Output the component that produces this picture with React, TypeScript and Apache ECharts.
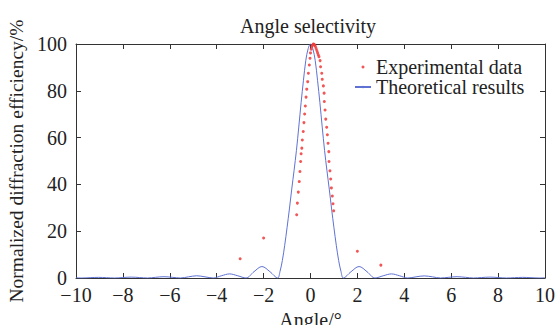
import React, { useEffect, useRef } from "react";
import * as echarts from "echarts";

const FONT = "Liberation Serif";

// Theoretical curve: [angle, efficiency]
const theoryAngles = [
  -10, -9.75, -9.4, -9.05, -8.7, -8.35, -8.0, -7.65, -7.3, -6.95, -6.6, -6.25, -5.9, -5.55,
  -5.2, -4.85, -4.5, -4.15, -3.8, -3.45, -3.1, -2.75, -2.41, -2.07, -1.73, -1.4,
  -1.3, -1.2, -1.1, -1.0, -0.9, -0.8, -0.7, -0.6, -0.5, -0.4, -0.3, -0.2, -0.1, 0,
  0.1, 0.2, 0.3, 0.4, 0.5, 0.6, 0.7, 0.8, 0.9, 1.0, 1.1, 1.2, 1.3, 1.4,
  1.73, 2.07, 2.41, 2.75, 3.1, 3.45, 3.8, 4.15, 4.5, 4.85, 5.2, 5.55, 5.9, 6.25, 6.6,
  6.95, 7.3, 7.65, 8.0, 8.35, 8.7, 9.05, 9.4, 9.75, 10,
];
const theoryValues = [
  0.08, 0, 0.14, 0.27, 0.14, 0, 0.2, 0.38, 0.2, 0, 0.3, 0.55, 0.3, 0,
  0.5, 0.95, 0.5, 0, 0.95, 1.75, 0.95, 0, 2.7, 4.9, 2.7, 0,
  2.8, 7.5, 14, 21.5, 29.5, 38, 46, 54.5, 64.5, 75, 84.5, 93, 98, 100,
  98, 93, 84.5, 75, 64.5, 54.5, 46, 38, 29.5, 21.5, 14, 7.5, 2.8, 0,
  2.7, 4.9, 2.7, 0, 0.95, 1.75, 0.95, 0, 0.5, 0.9, 0.5, 0, 0.3, 0.55, 0.3,
  0, 0.2, 0.38, 0.2, 0, 0.14, 0.27, 0.14, 0, 0.08,
];

const expAngles = [
  -3.0, -2.0,
  -0.59, -0.56, -0.52, -0.48, -0.45, -0.42, -0.4, -0.37, -0.35, -0.31, -0.28, -0.25, -0.22,
  -0.19, -0.16, -0.12, -0.09, -0.05, -0.02,
  0.0, 0.03, 0.06, 0.09, 0.12, 0.15, 0.18, 0.21, 0.24, 0.27, 0.3, 0.33,
  0.36, 0.41, 0.43, 0.48, 0.5, 0.55, 0.58, 0.59, 0.62, 0.65, 0.69, 0.72, 0.75, 0.78,
  0.79, 0.83, 0.86, 0.89, 0.93, 0.96, 0.99,
  2.0, 3.0,
];
const expValues = [
  8.2, 17.1,
  27.0, 32.0, 36.7, 41.2, 45.5, 49.8, 53.1, 55.5, 59.0, 62.6, 66.4, 70.1, 73.5,
  77.3, 80.7, 83.9, 87.5, 91.0, 93.9,
  96.2, 97.8, 98.9, 99.6, 100, 99.9, 99.5, 98.9, 98.1, 97.2, 96.3, 95.4,
  94.6, 92.9, 90.3, 87.5, 84.9, 82.1, 79.0, 75.4, 71.8, 67.9, 64.4, 61.2, 57.6, 54.0,
  49.8, 45.8, 42.3, 38.5, 35.0, 31.7, 28.7,
  11.4, 5.5,
];

const xTicks = [-10, -8, -6, -4, -2, 0, 2, 4, 6, 8, 10];
const yTicks = [0, 20, 40, 60, 80, 100];

const AXIS_COLOR = "#333";
const TEXT_COLOR = "#222";

export default function App() {
  const ref = useRef<HTMLDivElement>(null);

  useEffect(() => {
    if (!ref.current) return;
    const chart = echarts.init(ref.current, undefined, { renderer: "svg" });

    const theory = theoryAngles.map((a, i) => [a, theoryValues[i]]);
    const exp = expAngles.map((a, i) => [a, expValues[i]]);

    const xMin = xTicks[0];
    const xMax = xTicks[xTicks.length - 1];
    const xInt = xTicks[1] - xTicks[0];
    const yMin = yTicks[0];
    const yMax = yTicks[yTicks.length - 1];
    const yInt = yTicks[1] - yTicks[0];

    const fmt = (v: number) => String(v).replace("-", "\u2212");

    const baseX = {
      type: "value" as const,
      min: xMin,
      max: xMax,
      interval: xInt,
      axisLine: { show: true, onZero: false, lineStyle: { color: AXIS_COLOR, width: 1 } },
      axisTick: { show: true, inside: true, length: 5, lineStyle: { color: AXIS_COLOR } },
      splitLine: { show: false },
    };
    const baseY = {
      type: "value" as const,
      min: yMin,
      max: yMax,
      interval: yInt,
      axisLine: { show: true, onZero: false, lineStyle: { color: AXIS_COLOR, width: 1 } },
      axisTick: { show: true, inside: true, length: 5, lineStyle: { color: AXIS_COLOR } },
      splitLine: { show: false },
    };

    chart.setOption({
      animation: false,
      backgroundColor: "#ffffff",
      title: {
        text: "Angle selectivity",
        left: 240,
        top: 16,
        padding: 0,
        textStyle: { fontFamily: FONT, fontSize: 20, fontWeight: "normal", color: TEXT_COLOR },
      },
      legend: {
        orient: "vertical",
        left: 354,
        top: 57,
        padding: 0,
        itemGap: 0,
        itemWidth: 16,
        itemHeight: 3,
        textStyle: { fontFamily: FONT, fontSize: 20, color: TEXT_COLOR, lineHeight: 17 },
        data: [
          { name: "Experimental data", icon: "circle" },
          { name: "Theoretical results" },
        ],
      },
      grid: {
        left: 76,
        right: 12,
        top: 44,
        bottom: 47,
        containLabel: false,
        outerBoundsMode: "none",
      },
      xAxis: [
        {
          ...baseX,
          position: "bottom",
          name: "Angle/\u00b0",
          nameLocation: "middle",
          nameGap: 28,
          nameTextStyle: { fontFamily: FONT, fontSize: 20, color: TEXT_COLOR },
          axisLabel: {
            show: true,
            margin: 7,
            fontFamily: FONT,
            fontSize: 20,
            color: TEXT_COLOR,
            formatter: fmt,
          },
        },
        { ...baseX, position: "top", axisLabel: { show: false } },
      ],
      yAxis: [
        {
          ...baseY,
          position: "left",
          name: "Normalized diffraction efficiency/%",
          nameLocation: "middle",
          nameGap: 48,
          nameTextStyle: { fontFamily: FONT, fontSize: 19.5, color: TEXT_COLOR },
          axisLabel: {
            show: true,
            margin: 9,
            fontFamily: FONT,
            fontSize: 20,
            color: TEXT_COLOR,
          },
        },
        { ...baseY, position: "right", axisLabel: { show: false } },
      ],
      series: [
        {
          name: "Theoretical results",
          type: "line",
          data: theory,
          xAxisIndex: 0,
          yAxisIndex: 0,
          symbol: "none",
          smooth: 0.35,
          lineStyle: { color: "#5f72d4", width: 1 },
          itemStyle: { color: "#5f72d4" },
          z: 2,
        },
        {
          name: "Experimental data",
          type: "scatter",
          data: exp,
          xAxisIndex: 0,
          yAxisIndex: 0,
          symbol: "circle",
          symbolSize: 3,
          itemStyle: { color: "#f03a3a", opacity: 0.85 },
          z: 3,
        },
      ],
    });

    return () => chart.dispose();
  }, []);

  return (
    <div
      ref={ref}
      style={{ position: "absolute", left: 0, top: 0, width: 557, height: 325 }}
    />
  );
}
